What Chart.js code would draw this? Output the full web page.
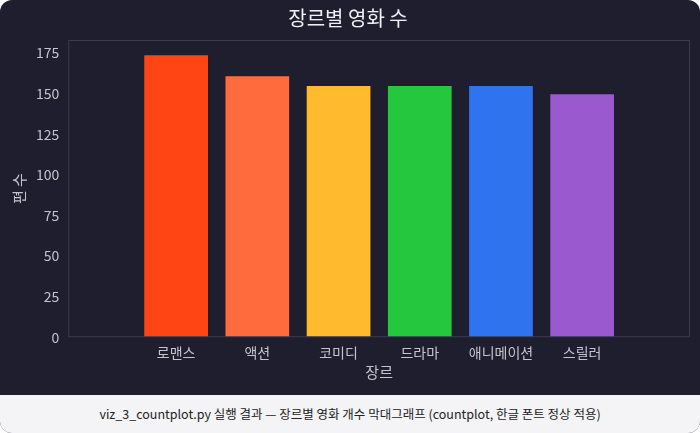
<!DOCTYPE html>
<html><head><meta charset="utf-8">
<script src="https://cdn.jsdelivr.net/npm/chart.js@4"></script>
<style>
html,body{margin:0;padding:0;background:#ffffff;}
#card{width:700px;height:433px;border-radius:12px;overflow:hidden;background:#1e1e2f;position:relative;}
#wrap{width:700px;height:395px;position:relative;}
#cap{position:absolute;top:395px;left:0;width:700px;height:38px;background:#f4f4f6;color:#222;font:12.5px "Noto Sans CJK KR","Noto Sans",sans-serif;text-align:center;line-height:38px;}
</style></head><body>
<div id="card"><div id="wrap"><canvas id="c" width="700" height="395" style="width:700px;height:395px"></canvas></div>
<div id="cap">viz_3_countplot.py 실행 결과 — 장르별 영화 개수 막대그래프 (countplot, 한글 폰트 정상 적용)</div></div>
<script>
const categories=["로맨스","액션","코미디","드라마","애니메이션","스릴러"];
const counts=[174,161,155,155,155,150];
const colors=["#ff4513","#ff6b3d","#ffbb2d","#25c73f","#2f74ee","#9b59d0"];
const yTicks=[0,25,50,75,100,125,150,175];
const F='"Noto Sans CJK KR","Noto Sans",sans-serif';
const tc='#c4c4cc';
const borderBox={id:'bb',afterDraw(ch){const a=ch.chartArea,c=ch.ctx;c.save();c.strokeStyle='#3a3b52';c.lineWidth=1;c.strokeRect(a.left+0.5,a.top+0.5,a.width-1,a.height-1);c.restore();}};
new Chart(document.getElementById('c'),{type:'bar',
data:{datasets:[{data:counts.map((v,i)=>({x:i,y:v})),backgroundColor:colors,borderColor:colors.map(()=> 'rgba(0,0,0,0.25)'),borderWidth:0.6,barPercentage:0.8,categoryPercentage:1}]},
options:{responsive:false,animation:false,devicePixelRatio:1,
layout:{padding:{left:6,right:10,top:0,bottom:10}},
plugins:{legend:{display:false},tooltip:{enabled:false},
title:{display:true,text:'장르별 영화 수',color:'#f0f0f4',font:{family:F,size:20,weight:'normal'},padding:{top:6,bottom:10}}},
scales:{
x:{type:'linear',min:-0.69,max:5.69,afterBuildTicks(s){s.ticks=categories.map((_,i)=>({value:i}));},
ticks:{callback:(v)=>categories[v],color:tc,font:{family:F,size:14},autoSkip:false,maxRotation:0,padding:2},
grid:{display:false,drawTicks:true,tickLength:5,tickColor:'#aaa'},border:{display:false},
title:{display:true,text:'장르',color:tc,font:{family:F,size:15},padding:{top:0}}},
y:{min:0,max:183,afterBuildTicks(s){s.ticks=yTicks.map(v=>({value:v}));},
ticks:{color:tc,font:{family:F,size:14},padding:4},
grid:{display:false,drawTicks:true,tickLength:5,tickColor:'#aaa'},border:{display:false},
title:{display:true,text:'편 수',color:tc,font:{family:F,size:15}}}}},
plugins:[borderBox]});
</script></body></html>
